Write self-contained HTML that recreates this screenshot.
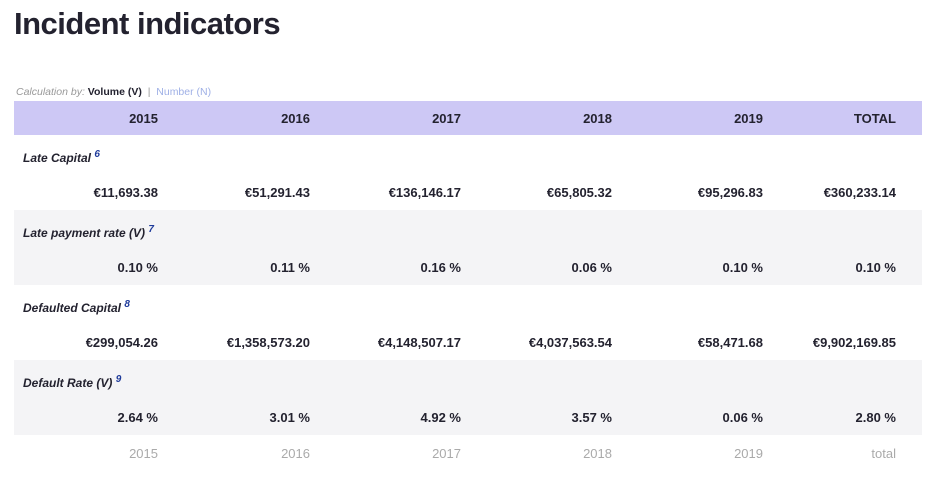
<!DOCTYPE html>
<html><head><meta charset="utf-8"><style>
body{margin:0;width:937px;height:487px;background:#fff;font-family:"Liberation Sans",sans-serif;color:#23222f;position:relative;overflow:hidden}
h1{position:absolute;left:14px;top:6px;margin:0;font-size:31px;font-weight:bold;letter-spacing:-0.5px}
.calc{position:absolute;left:16px;top:86px;font-size:10.5px;color:#999}
.calc i{font-style:italic}
.calc b{color:#23222f}
.calc .n{color:#9fb0e6}
.band{position:absolute;left:14px;width:908px}
.c{position:absolute;font-size:13px;font-weight:bold;text-align:right;width:140px}
.lbl{position:absolute;left:23px;font-size:12px;font-weight:bold;font-style:italic}
.lbl sup{color:#1e3a9a;font-size:10px}
.f{font-weight:normal;color:#aaa}
</style></head><body>
<h1>Incident indicators</h1>
<div class="calc"><i>Calculation by:</i> <b>Volume (V)</b> &nbsp;|&nbsp; <span class="n">Number (N)</span></div>
<div class="band" style="top:101px;height:34px;background:#cdc8f5"></div>
<div class="band" style="top:210px;height:75px;background:#f4f4f6"></div>
<div class="band" style="top:360px;height:75px;background:#f4f4f6"></div>
<div id="t"></div>
<script>
const years=["2015","2016","2017","2018","2019","TOTAL"];
const footer=["2015","2016","2017","2018","2019","total"];
const labels=["Late Capital","Late payment rate (V)","Defaulted Capital","Default Rate (V)"];
const notes=["6","7","8","9"];
const rows=[
["€11,693.38","€51,291.43","€136,146.17","€65,805.32","€95,296.83","€360,233.14"],
["0.10 %","0.11 %","0.16 %","0.06 %","0.10 %","0.10 %"],
["€299,054.26","€1,358,573.20","€4,148,507.17","€4,037,563.54","€58,471.68","€9,902,169.85"],
["2.64 %","3.01 %","4.92 %","3.57 %","0.06 %","2.80 %"]];
const rights=[158,310,461,612,763,896];
const t=document.getElementById('t');
function cell(txt,right,top,cls,name){const d=document.createElement('div');d.className='c '+(cls||'');d.style.left=(right-140)+'px';d.style.top=top+'px';d.textContent=txt;


t.appendChild(d);}
years.forEach((y,i)=>cell(y,rights[i],111,'','header-'+y.toLowerCase()));
labels.forEach((l,r)=>{const d=document.createElement('div');d.className='lbl';d.style.top=(149+75*r)+'px';d.innerHTML=l+' <sup>'+notes[r]+'</sup>';


t.appendChild(d);
rows[r].forEach((v,i)=>cell(v,rights[i],185+75*r,'','value-cell'));});
footer.forEach((y,i)=>cell(y,rights[i],446,'f','footer-'+y));
</script>
</body></html>
